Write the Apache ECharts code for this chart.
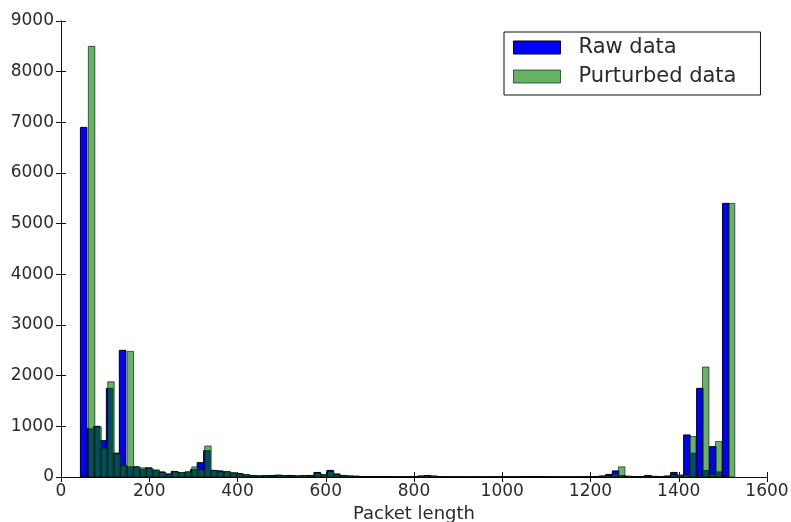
<!DOCTYPE html>
<html>
<head>
<meta charset="utf-8">
<script src="https://cdn.jsdelivr.net/npm/echarts@6/dist/echarts.min.js"></script>
<style>
  html, body { margin: 0; padding: 0; background: #fff; }
  #chart { width: 791px; height: 522px; }
</style>
</head>
<body>
<div id="chart"></div>
<script>
// Packet-length histograms: 100 equal-width bins over each data set's own range.
const BIN_COUNT = 100;
const rawRange = [44, 1514];
const pertRange = [62, 1527];

const rawCounts = [
  6900, 950, 1000, 716, 1750, 470, 2500, 200, 200, 150,
  180, 130, 100, 60, 110, 80, 90, 150, 283, 520,
  130, 120, 100, 80, 70, 40, 30, 20, 25, 30,
  35, 25, 30, 20, 25, 30, 90, 40, 130, 60,
  30, 20, 15, 10, 10, 10, 10, 8, 5, 5,
  5, 10, 20, 30, 15, 5, 3, 3, 2, 2,
  2, 2, 2, 2, 2, 2, 3, 3, 5, 10,
  5, 10, 3, 2, 2, 2, 2, 3, 5, 10,
  20, 50, 120, 30, 5, 5, 10, 30, 10, 5,
  20, 90, 30, 830, 470, 1750, 130, 600, 100, 5400
];

const pertCounts = [
  8500, 990, 570, 1880, 460, 230, 2480, 200, 180, 170,
  140, 90, 50, 100, 90, 110, 200, 150, 612, 130,
  100, 110, 80, 60, 50, 30, 25, 30, 20, 35,
  30, 20, 25, 30, 25, 80, 50, 110, 50, 30,
  20, 15, 10, 10, 8, 8, 5, 5, 5, 5,
  8, 15, 25, 20, 10, 3, 2, 3, 2, 2,
  3, 2, 2, 3, 2, 2, 3, 2, 5, 10,
  8, 5, 3, 2, 2, 3, 2, 2, 3, 15,
  30, 60, 200, 20, 5, 8, 25, 15, 5, 10,
  40, 40, 50, 800, 30, 2170, 60, 700, 20, 5400
];

const xTicks = { min: 0, max: 1600, step: 200 };
const yTicks = { min: 0, max: 9000, step: 1000 };

// [binStart, binEnd, count] rows for the custom bar renderer
function toBins(range, counts) {
  const w = (range[1] - range[0]) / BIN_COUNT;
  return counts.map((c, i) => [range[0] + i * w, range[0] + (i + 1) * w, c]);
}

function barRenderer(fill, stroke) {
  return function (params, api) {
    const topLeft = api.coord([api.value(0), api.value(2)]);
    const bottomRight = api.coord([api.value(1), 0]);
    return {
      type: 'rect',
      shape: {
        x: topLeft[0],
        y: topLeft[1],
        width: bottomRight[0] - topLeft[0],
        height: bottomRight[1] - topLeft[1]
      },
      style: { fill: fill, stroke: stroke, lineWidth: 1 }
    };
  };
}

const FONT = 'DejaVu Sans';
const TEXT = '#2a2a2a';
const BLUE = '#0000ff';
const GREEN = 'rgba(0,128,0,0.6)';
const GREEN_EDGE = 'rgba(0,0,0,0.6)';

const plainNumber = v => String(v);

const frameAxis = {
  type: 'value',
  axisLine: { show: true, lineStyle: { color: '#111', width: 1 } },
  axisTick: { show: true, inside: true, length: 5, lineStyle: { color: '#111' } },
  splitLine: { show: false }
};

const chart = echarts.init(document.getElementById('chart'), null, { renderer: 'canvas' });

chart.setOption({
  animation: false,
  backgroundColor: '#fff',
  grid: { left: 61, right: 24, top: 21, bottom: 45, containLabel: false, outerBoundsMode: 'none' },
  legend: {
    orient: 'vertical',
    left: 504,
    top: 32,
    padding: [5, 10, 8, 9],
    itemWidth: 47,
    itemHeight: 13,
    itemGap: 8,
    borderColor: '#111',
    borderWidth: 1,
    borderRadius: 0,
    backgroundColor: '#fff',
    textStyle: { fontFamily: FONT, fontSize: 21, lineHeight: 20, color: TEXT, padding: [0, 14, 0, 13] },
    data: [
      { name: 'Raw data', icon: 'rect', itemStyle: { color: BLUE, borderColor: '#000', borderWidth: 1 } },
      { name: 'Purturbed data', icon: 'rect', itemStyle: { color: GREEN, borderColor: GREEN_EDGE, borderWidth: 1 } }
    ]
  },
  xAxis: [
    Object.assign({}, frameAxis, {
      position: 'bottom',
      min: xTicks.min, max: xTicks.max, interval: xTicks.step,
      name: 'Packet length',
      nameLocation: 'middle',
      nameGap: 24,
      nameTextStyle: { fontFamily: FONT, fontSize: 18, color: TEXT },
      axisLabel: { fontFamily: FONT, fontSize: 17, color: TEXT, margin: 6, formatter: plainNumber }
    }),
    Object.assign({}, frameAxis, {
      position: 'top',
      min: xTicks.min, max: xTicks.max, interval: xTicks.step,
      axisLabel: { show: false }
    })
  ],
  yAxis: [
    Object.assign({}, frameAxis, {
      position: 'left',
      min: yTicks.min, max: yTicks.max, interval: yTicks.step,
      axisLabel: { fontFamily: FONT, fontSize: 17, color: TEXT, margin: 7, formatter: plainNumber }
    }),
    Object.assign({}, frameAxis, {
      position: 'right',
      min: yTicks.min, max: yTicks.max, interval: yTicks.step,
      axisLabel: { show: false }
    })
  ],
  series: [
    {
      name: 'Raw data',
      type: 'custom',
      xAxisIndex: 0,
      yAxisIndex: 0,
      itemStyle: { color: BLUE, borderColor: '#000', borderWidth: 1 },
      renderItem: barRenderer(BLUE, '#000'),
      encode: { x: [0, 1], y: 2 },
      data: toBins(rawRange, rawCounts),
      z: 2
    },
    {
      name: 'Purturbed data',
      type: 'custom',
      xAxisIndex: 0,
      yAxisIndex: 0,
      itemStyle: { color: GREEN, borderColor: GREEN_EDGE, borderWidth: 1 },
      renderItem: barRenderer(GREEN, GREEN_EDGE),
      encode: { x: [0, 1], y: 2 },
      data: toBins(pertRange, pertCounts),
      z: 3
    }
  ]
});
</script>
</body>
</html>
